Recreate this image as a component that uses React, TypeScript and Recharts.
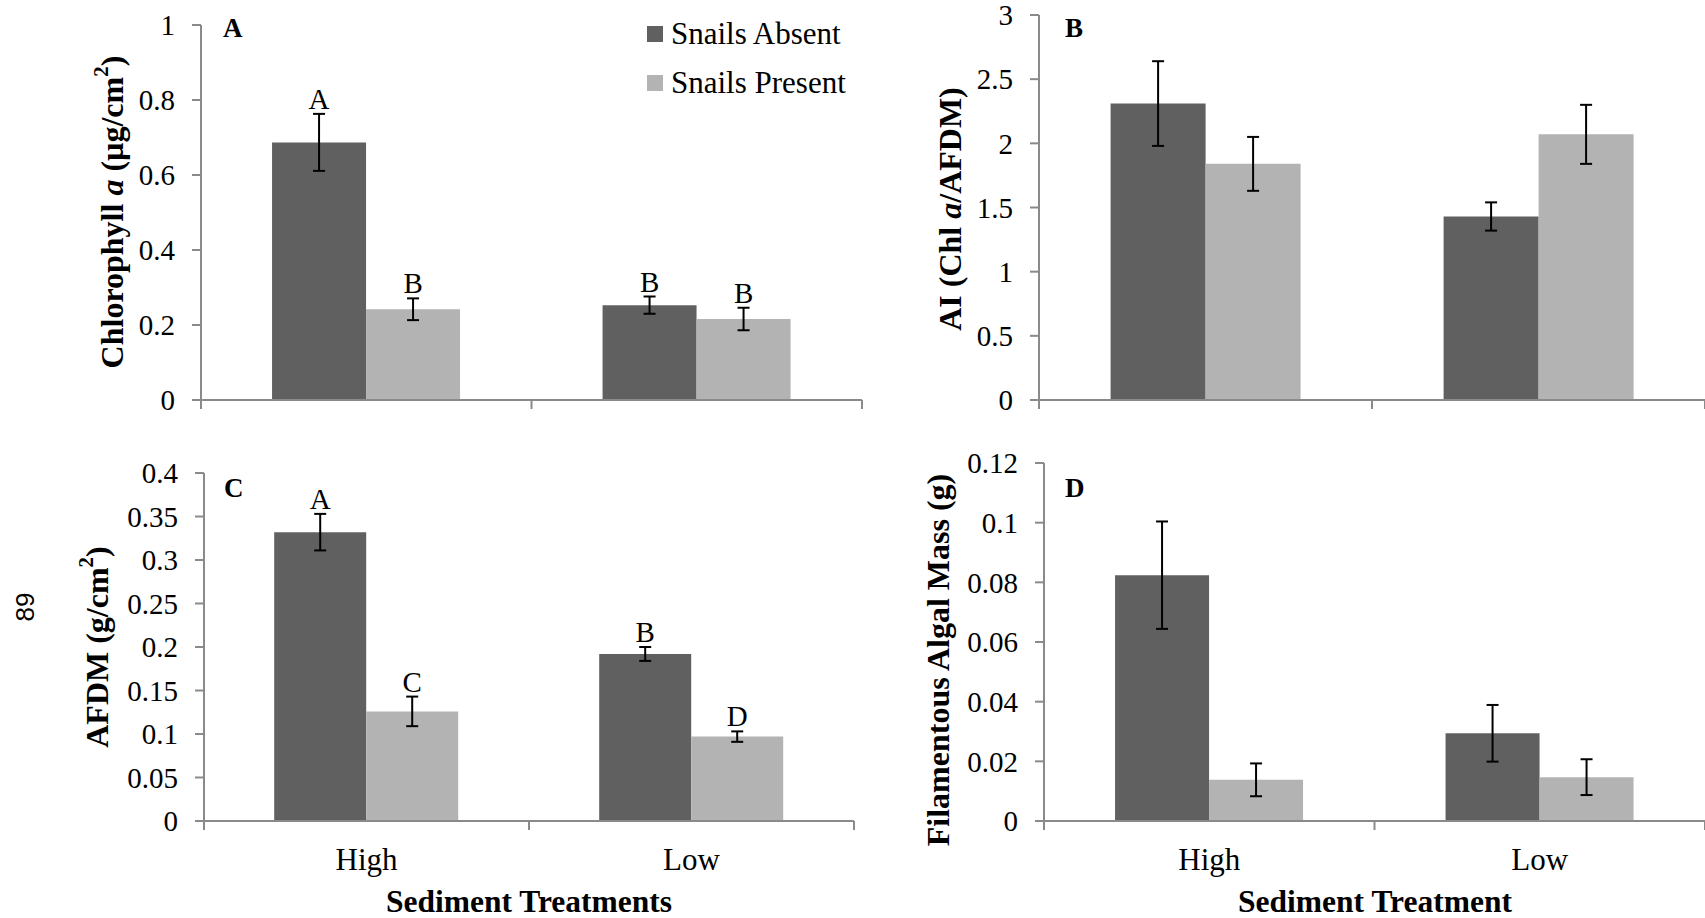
import React from 'react';
import { BarChart, Bar, XAxis, YAxis, ErrorBar, LabelList, Legend } from 'recharts';

const SERIF = '"Liberation Serif", "Times New Roman", serif';
const SANS = '"Liberation Sans", Arial, sans-serif';
const AXIS = '#8a8a8a';
const DARK = '#606060';
const LIGHT = '#b3b3b3';

const categories = ['High', 'Low'];

// panel A - chlorophyll a
const chlAbsent = [0.687, 0.253];
const chlAbsentErr = [0.076, 0.023];
const chlPresent = [0.242, 0.216];
const chlPresentErr = [0.029, 0.03];
const chlAbsentTags = ['A', 'B'];
const chlPresentTags = ['B', 'B'];
const chlTicks = [0, 0.2, 0.4, 0.6, 0.8, 1];

// panel B - autotrophic index
const aiAbsent = [2.31, 1.43];
const aiAbsentErr = [0.33, 0.11];
const aiPresent = [1.84, 2.07];
const aiPresentErr = [0.21, 0.23];
const aiTicks = [0, 0.5, 1, 1.5, 2, 2.5, 3];

// panel C - AFDM
const afdmAbsent = [0.332, 0.192];
const afdmAbsentErr = [0.021, 0.008];
const afdmPresent = [0.126, 0.097];
const afdmPresentErr = [0.017, 0.006];
const afdmAbsentTags = ['A', 'B'];
const afdmPresentTags = ['C', 'D'];
const afdmTicks = [0, 0.05, 0.1, 0.15, 0.2, 0.25, 0.3, 0.35, 0.4];

// panel D - filamentous algal mass
const algaAbsent = [0.0824, 0.0294];
const algaAbsentErr = [0.018, 0.0095];
const algaPresent = [0.0138, 0.0147];
const algaPresentErr = [0.0055, 0.006];
const algaTicks = [0, 0.02, 0.04, 0.06, 0.08, 0.1, 0.12];

const buildRows = (a: number[], ae: number[], p: number[], pe: number[], at?: string[], pt?: string[]) =>
  categories.map((name, i) => ({
    name,
    absent: a[i],
    absentErr: ae[i],
    present: p[i],
    presentErr: pe[i],
    absentTag: at ? at[i] : '',
    presentTag: pt ? pt[i] : '',
  }));

const Y_W = 90;
const X_H = 20;

const tagLabel = (vals: number[], errs: number[]) => (props: any) => {
  const vb = props.viewBox || props;
  const { x, y, width, height } = vb;
  const i = props.index;
  if (!props.value) return null;
  const errPx = (errs[i] * height) / vals[i];
  return (
    <text x={x + width / 2} y={y - errPx - 5} textAnchor="middle" fontFamily={SERIF} fontSize={29} fill="#000">
      {props.value}
    </text>
  );
};

const CatTick = (props: any) => {
  const { x, y, payload, index, half, showLabel } = props;
  const h = payload && payload.offset ? payload.offset : half;
  const last = index === categories.length - 1;
  return (
    <g>
      <line x1={x - h} y1={y} x2={x - h} y2={y + 9} stroke={AXIS} strokeWidth={2} />
      {last && <line x1={x + h} y1={y} x2={x + h} y2={y + 9} stroke={AXIS} strokeWidth={2} />}
      {showLabel && (
        <text x={x} y={y + 49} textAnchor="middle" fontFamily={SERIF} fontSize={31} fill="#000">
          {payload.value}
        </text>
      )}
    </g>
  );
};

const LegendBox = (props: any) => (
  <div style={{ fontFamily: SERIF, fontSize: 31, color: '#000' }}>
    {(props.payload || []).map((e: any) => (
      <div key={e.value} style={{ display: 'flex', alignItems: 'center', height: 49, whiteSpace: 'nowrap' }}>
        <span style={{ display: 'inline-block', width: 16, height: 16, background: e.color, marginRight: 8 }} />
        <span>{e.value}</span>
      </div>
    ))}
  </div>
);

interface PanelProps {
  box: { left: number; top: number; width: number; height: number };
  plot: { left: number; top: number; right: number; bottom: number };
  rows: any[];
  ticks: number[];
  vals: { a: number[]; ae: number[]; p: number[]; pe: number[] };
  gap: string;
  legend?: boolean;
  showCats?: boolean;
}

const Panel = ({ box, plot, rows, ticks, vals, gap, legend, showCats }: PanelProps) => {
  const half = (plot.right - plot.left) / categories.length / 2;
  return (
    <div style={{ position: 'absolute', left: box.left, top: box.top }}>
      <BarChart
        width={box.width}
        height={box.height}
        data={rows}
        barCategoryGap={gap}
        barGap={0}
        margin={{
          top: plot.top,
          left: plot.left - Y_W,
          right: box.width - plot.right,
          bottom: box.height - plot.bottom - X_H,
        }}
      >
        <XAxis
          dataKey="name"
          height={X_H}
          interval={0}
          tickSize={0}
          tickMargin={0}
          tickLine={false}
          axisLine={{ stroke: AXIS, strokeWidth: 2 }}
          tick={(p: any) => <CatTick {...p} half={half} showLabel={showCats} />}
        />
        <YAxis
          width={Y_W}
          domain={[ticks[0], ticks[ticks.length - 1]]}
          ticks={ticks}
          interval={0}
          tickSize={9}
          tickMargin={17}
          axisLine={{ stroke: AXIS, strokeWidth: 2 }}
          tickLine={{ stroke: AXIS, strokeWidth: 2 }}
          tick={{ fill: '#000', fontSize: 29, fontFamily: SERIF }}
        />
        {legend && (
          <Legend
            layout="vertical"
            align="center"
            verticalAlign="middle"
            content={LegendBox}
            wrapperStyle={{ left: 647, top: 9, width: 'auto', height: 'auto' }}
          />
        )}
        <Bar dataKey="absent" name="Snails Absent" fill={DARK} isAnimationActive={false}>
          <ErrorBar dataKey="absentErr" width={6} strokeWidth={2} stroke="#000" direction="y" />
          <LabelList dataKey="absentTag" content={tagLabel(vals.a, vals.ae)} />
        </Bar>
        <Bar dataKey="present" name="Snails Present" fill={LIGHT} isAnimationActive={false}>
          <ErrorBar dataKey="presentErr" width={6} strokeWidth={2} stroke="#000" direction="y" />
          <LabelList dataKey="presentTag" content={tagLabel(vals.p, vals.pe)} />
        </Bar>
      </BarChart>
    </div>
  );
};

const RotTitle = ({ x, y, children }: { x: number; y: number; children: React.ReactNode }) => (
  <text
    x={x}
    y={y}
    transform={`rotate(-90 ${x} ${y})`}
    textAnchor="middle"
    dominantBaseline="central"
    fontFamily={SERIF}
    fontSize={32}
    fontWeight="bold"
    fill="#000"
  >
    {children}
  </text>
);

export default function App() {
  return (
    <div style={{ position: 'absolute', left: 0, top: 0, width: 1705, height: 918, background: '#fff' }}>
      <Panel
        box={{ left: 0, top: 0, width: 870, height: 420 }}
        plot={{ left: 201, top: 25, right: 862, bottom: 400 }}
        rows={buildRows(chlAbsent, chlAbsentErr, chlPresent, chlPresentErr, chlAbsentTags, chlPresentTags)}
        vals={{ a: chlAbsent, ae: chlAbsentErr, p: chlPresent, pe: chlPresentErr }}
        ticks={chlTicks}
        gap="21.5%"
        legend
      />
      <Panel
        box={{ left: 860, top: 0, width: 845, height: 420 }}
        plot={{ left: 179, top: 15, right: 845, bottom: 400 }}
        rows={buildRows(aiAbsent, aiAbsentErr, aiPresent, aiPresentErr)}
        vals={{ a: aiAbsent, ae: aiAbsentErr, p: aiPresent, pe: aiPresentErr }}
        ticks={aiTicks}
        gap="21.5%"
      />
      <Panel
        box={{ left: 0, top: 440, width: 870, height: 478 }}
        plot={{ left: 204, top: 33, right: 854, bottom: 381 }}
        rows={buildRows(afdmAbsent, afdmAbsentErr, afdmPresent, afdmPresentErr, afdmAbsentTags, afdmPresentTags)}
        vals={{ a: afdmAbsent, ae: afdmAbsentErr, p: afdmPresent, pe: afdmPresentErr }}
        ticks={afdmTicks}
        gap="21.6%"
        showCats
      />
      <Panel
        box={{ left: 860, top: 440, width: 845, height: 478 }}
        plot={{ left: 184, top: 23, right: 845, bottom: 381 }}
        rows={buildRows(algaAbsent, algaAbsentErr, algaPresent, algaPresentErr)}
        vals={{ a: algaAbsent, ae: algaAbsentErr, p: algaPresent, pe: algaPresentErr }}
        ticks={algaTicks}
        gap="21.5%"
        showCats
      />
      <svg
        width={1705}
        height={918}
        style={{ position: 'absolute', left: 0, top: 0, pointerEvents: 'none' }}
      >
        <RotTitle x={112} y={212}>
          Chlorophyll <tspan fontStyle="italic">a</tspan> (µg/cm<tspan dy={-11} fontSize={21}>2</tspan>
          <tspan dy={11}>)</tspan>
        </RotTitle>
        <RotTitle x={950} y={209}>
          AI (Chl <tspan fontStyle="italic">a</tspan>/AFDM)
        </RotTitle>
        <RotTitle x={97} y={647}>
          AFDM (g/cm<tspan dy={-11} fontSize={21}>2</tspan>
          <tspan dy={11}>)</tspan>
        </RotTitle>
        <RotTitle x={938} y={660}>
          Filamentous Algal Mass (g)
        </RotTitle>
        <g fontFamily={SERIF} fontWeight="bold" fontSize={27} fill="#000">
          <text x={223} y={37}>A</text>
          <text x={1065} y={37}>B</text>
          <text x={224} y={497}>C</text>
          <text x={1065} y={497}>D</text>
        </g>
        <g fontFamily={SERIF} fontWeight="bold" fontSize={31.5} fill="#000" textAnchor="middle">
          <text x={529} y={912}>Sediment Treatments</text>
          <text x={1375} y={912}>Sediment Treatment</text>
        </g>
        <text
          x={25}
          y={607}
          transform="rotate(-90 25 607)"
          textAnchor="middle"
          dominantBaseline="central"
          fontFamily={SANS}
          fontSize={26}
          fill="#000"
        >
          89
        </text>
      </svg>
    </div>
  );
}
